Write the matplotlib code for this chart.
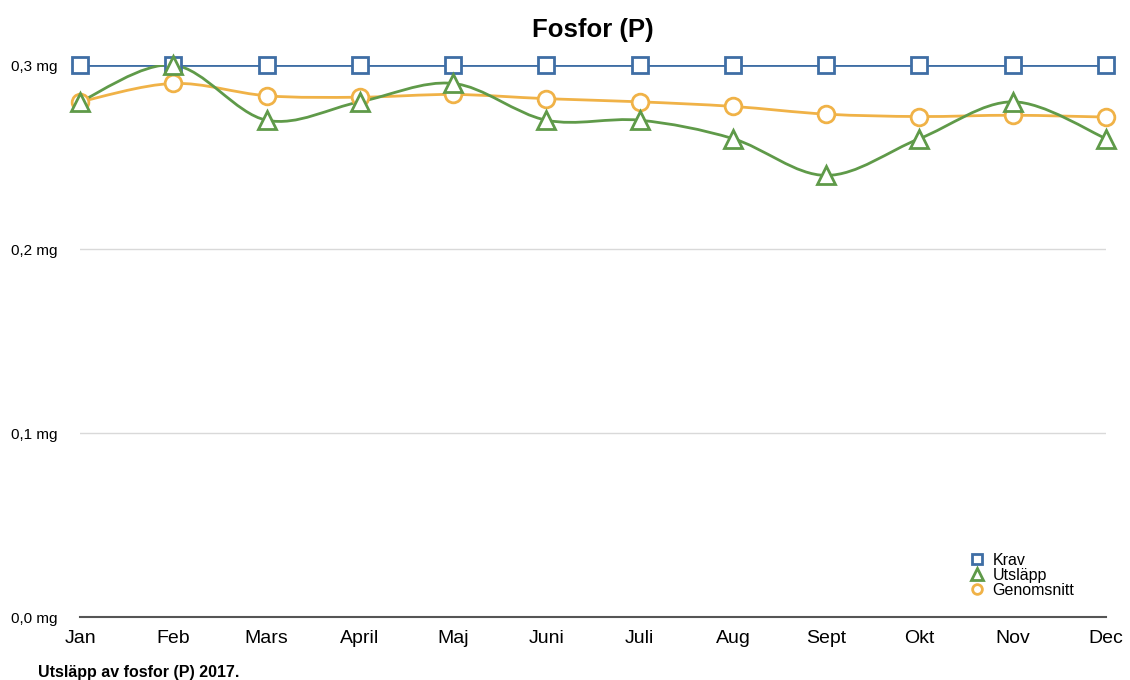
import matplotlib
matplotlib.use("Agg")
import matplotlib.pyplot as plt
from matplotlib.path import Path
from matplotlib.patches import PathPatch
from matplotlib.lines import Line2D

plt.rcParams['font.family'] = ['Liberation Sans', 'DejaVu Sans']

# data
months = ["Jan", "Feb", "Mars", "April", "Maj", "Juni", "Juli", "Aug", "Sept", "Okt", "Nov", "Dec"]
krav = [0.30, 0.30, 0.30, 0.30, 0.30, 0.30, 0.30, 0.30, 0.30, 0.30, 0.30, 0.30]
utslapp = [0.28, 0.30, 0.27, 0.28, 0.29, 0.27, 0.27, 0.26, 0.24, 0.26, 0.28, 0.26]
genomsnitt = [0.280, 0.290, 0.2833, 0.2825, 0.284, 0.2817, 0.280, 0.2775, 0.2733, 0.272, 0.2727, 0.2717]
yticks = [0.0, 0.1, 0.2, 0.3]
ylabels = ["0,0 mg", "0,1 mg", "0,2 mg", "0,3 mg"]

blue = "#3f6ea5"
green = "#5f9a49"
orange = "#f0b247"


def smooth_path(xs, ys):
    # catmull-rom curve turned into cubic bezier segments
    pts = list(zip(xs, ys))
    verts = [pts[0]]
    codes = [Path.MOVETO]
    n = len(pts)
    for i in range(n - 1):
        p0 = pts[max(i - 1, 0)]
        p1 = pts[i]
        p2 = pts[i + 1]
        p3 = pts[min(i + 2, n - 1)]
        c1 = (p1[0] + (p2[0] - p0[0]) / 6, p1[1] + (p2[1] - p0[1]) / 6)
        c2 = (p2[0] - (p3[0] - p1[0]) / 6, p2[1] - (p3[1] - p1[1]) / 6)
        verts += [c1, c2, p2]
        codes += [Path.CURVE4] * 3
    return Path(verts, codes)


fig = plt.figure(figsize=(11.3, 6.8), dpi=100)
ax = fig.add_axes([0.0708, 0.0926, 0.9080, 0.8118])

x = list(range(len(months)))

# gridlines
for t in yticks[1:3]:
    ax.axhline(t, color="#d9d9d9", lw=1, zorder=0)

ax.plot(x, krav, color=blue, lw=2, zorder=2)
ax.add_patch(PathPatch(smooth_path(x, genomsnitt), fill=False, edgecolor=orange, lw=2, zorder=3))
ax.add_patch(PathPatch(smooth_path(x, utslapp), fill=False, edgecolor=green, lw=2, zorder=4))

ax.plot(x, krav, ls="none", marker="s", ms=11, mfc="white", mec=blue, mew=2, zorder=5, clip_on=False)
ax.plot(x, genomsnitt, ls="none", marker="o", ms=12, mfc="white", mec=orange, mew=2, zorder=5, clip_on=False)
ax.plot(x, utslapp, ls="none", marker="^", ms=13, mfc="white", mec=green, mew=2, zorder=6, clip_on=False)

ax.set_xlim(0, 11)
ax.set_ylim(0, 0.3)
ax.set_xticks(x)
ax.set_xticklabels(months, fontsize=14)
ax.set_yticks(yticks)
ax.set_yticklabels(ylabels, fontsize=11)
ax.tick_params(axis="x", length=0, pad=9)
ax.tick_params(axis="y", length=0, pad=16)
for side in ["top", "right", "left"]:
    ax.spines[side].set_visible(False)
ax.spines["bottom"].set_color("#555555")
ax.spines["bottom"].set_linewidth(1.5)

fig.text(0.525, 0.956, "Fosfor (P)", fontsize=18.5, fontweight="bold", ha="center", va="center")
fig.text(0.034, 0.0, "Utsläpp av fosfor (P) 2017.", fontsize=11.5, fontweight="bold", ha="left", va="bottom")

handles = [
    Line2D([], [], ls="none", marker="s", ms=7, mfc="white", mec=blue, mew=2),
    Line2D([], [], ls="none", marker="^", ms=8, mfc="white", mec=green, mew=2),
    Line2D([], [], ls="none", marker="o", ms=7, mfc="white", mec=orange, mew=2),
]
ax.legend(handles, ["Krav", "Utsläpp", "Genomsnitt"], loc="lower right",
          bbox_to_anchor=(0.977, 0.02), frameon=False, fontsize=11.5,
          handlelength=0.8, handletextpad=0.6, labelspacing=0.0, borderpad=0)

fig.savefig("out.png", dpi=100)
